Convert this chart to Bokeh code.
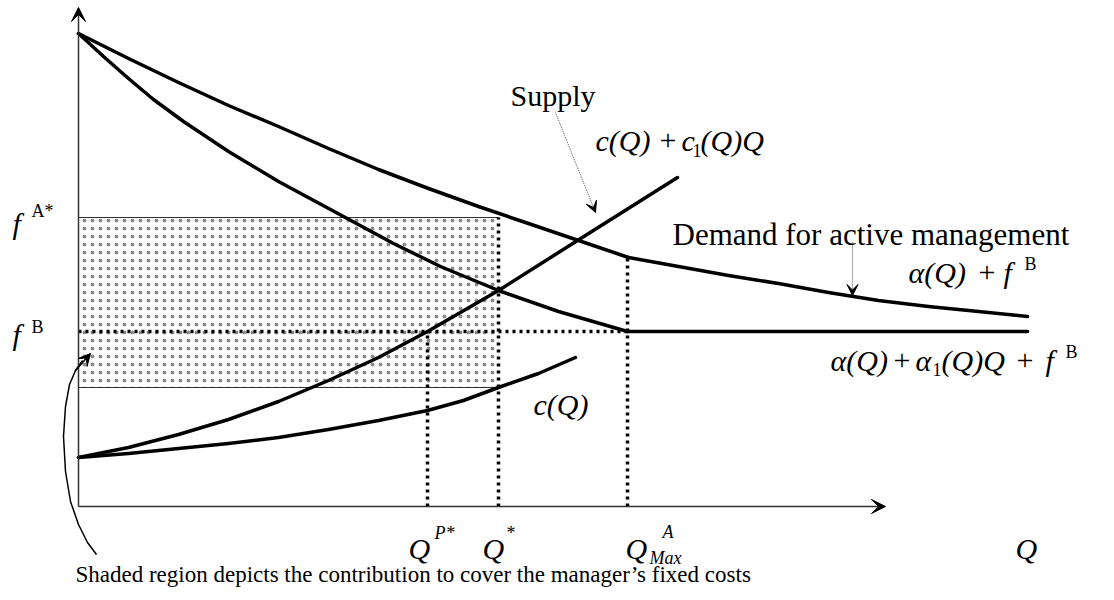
from bokeh.plotting import figure
from bokeh.models import Range1d, Label, Arrow, VeeHead
from bokeh.embed import file_html
from bokeh.resources import INLINE

# ---- data (quantity Q on x, price on y; origin at the axes' origin) ----
q_demand_a = [0, 50, 100, 150, 200, 250, 300, 350, 400, 450, 500, 550]
p_demand_a = [473, 448, 424, 401, 380, 358, 337, 318, 300, 283, 266, 249]
q_demand_b = [550, 600, 650, 700, 750, 800, 850, 900, 949]
p_demand_b = [249, 240, 231, 223, 214, 206, 200, 195, 190]

q_mr_a = [0, 25, 50, 75, 105, 150, 200, 265, 315, 362, 420, 480, 549]
p_mr_a = [473, 450, 428, 407, 385, 355, 325, 290, 263, 240, 216, 195, 175]
q_mr_b = [549, 949]
p_mr_b = [175, 175]

q_supply = [0, 50, 100, 150, 200, 250, 300, 349, 420, 499, 599]
p_supply = [49, 59, 72, 87, 105, 126, 149, 175, 216, 266, 329]

q_cost = [0, 50, 100, 150, 200, 250, 300, 349, 385, 420, 460, 497]
p_cost = [49, 53, 58, 63, 69, 77, 86, 96, 106, 119, 133, 149]

f_A = 289
f_B = 175
Q_P = 349
Q_star = 420
Q_max = 549
c_star = 119
d_max = 249

q_axis_end = 807
p_axis_end = 499

# curved note arrow path
q_note = [18, 9, 0, -8, -13, -15, -13, -9, -3, 4]
p_note = [-48, -36, -18, 5, 35, 70, 100, 122, 136, 146]

FONT = "Liberation Serif"

p = figure(width=1114, height=600, x_range=Range1d(-78, 1036), y_range=Range1d(-94, 506),
           output_backend="svg", toolbar_location=None, min_border=0,
           x_axis_type=None, y_axis_type=None)
p.grid.visible = False
p.outline_line_color = None
p.background_fill_color = "white"

# shaded region
p.quad(left=[0], right=[Q_star], bottom=[c_star], top=[f_A], fill_color=None, line_color=None,
       hatch_pattern="dot", hatch_scale=8, hatch_color="#8c8c8c", hatch_weight=1.4)
p.line([0, Q_star], [f_A, f_A], line_color="#333333", line_width=1)
p.line([0, Q_star], [c_star, c_star], line_color="#333333", line_width=1)

# dotted guides
dot = dict(line_color="black", line_width=3.5, line_dash="3 4", line_cap="butt")
p.line([0, Q_max], [f_B, f_B], **dot)
p.line([Q_P, Q_P], [0, f_B], **dot)
p.line([Q_star, Q_star], [0, f_A], **dot)
p.line([Q_max, Q_max], [0, d_max], **dot)

# axes
p.add_layout(Arrow(end=VeeHead(size=14, fill_color="black", line_color="black", line_width=1),
                   x_start=0, y_start=0, x_end=0, y_end=p_axis_end, line_color="#333333", line_width=1.5))
p.add_layout(Arrow(end=VeeHead(size=14, fill_color="black", line_color="black", line_width=1),
                   x_start=0, y_start=0, x_end=q_axis_end, y_end=0, line_color="#333333", line_width=1.5))

# curves
curve = dict(line_color="black", line_width=3.5, line_join="round", line_cap="round")
p.line(q_demand_a, p_demand_a, **curve)
p.line(q_demand_b, p_demand_b, **curve)
p.line(q_mr_a, p_mr_a, **curve)
p.line(q_mr_b, p_mr_b, **curve)
p.line(q_supply, p_supply, **curve)
p.line(q_cost, p_cost, **curve)

# pointer arrows
p.add_layout(Arrow(end=VeeHead(size=11, fill_color="black", line_color="black", line_width=1),
                   x_start=477, y_start=394, x_end=517, y_end=294,
                   line_color="#555555", line_width=1, line_dash="1 1"))
p.add_layout(Arrow(end=VeeHead(size=11, fill_color="black", line_color="black", line_width=1),
                   x_start=774, y_start=264, x_end=774, y_end=211,
                   line_color="#555555", line_width=1, line_dash="1 1"))
p.line(q_note, p_note, line_color="black", line_width=1.5, line_join="round")
p.add_layout(Arrow(end=VeeHead(size=12, fill_color="black", line_color="black", line_width=1),
                   x_start=q_note[-2], y_start=p_note[-2], x_end=q_note[-1] + 8, y_end=p_note[-1] + 7,
                   line_color="black", line_width=1.5))


def lab(x, y, text, size, italic=False, baseline="middle", align="left"):
    p.add_layout(Label(x=x, y=y, text=text, text_font=FONT, text_font_size=f"{size}px",
                       text_font_style="italic" if italic else "normal",
                       text_baseline=baseline, text_align=align, text_color="black"))


# axis value labels
lab(-66, 283, "f", 30, True)
lab(-47, 296, "A*", 18)
lab(-66, 172, "f", 30, True)
lab(-47, 180, "B", 18)

lab(330, -42, "Q", 30, True)
lab(356, -26, "P*", 18, True)
lab(404, -42, "Q", 30, True)
lab(428, -26, "*", 18)
lab(547, -42, "Q", 30, True)
lab(584, -25, "A", 18, True)
lab(571, -51, "Max", 18, True)
lab(937, -42, "Q", 30, True)

# curve labels
lab(432, 411, "Supply", 30, baseline="alphabetic")
lab(517, 366, "c(Q)", 30, True)
lab(581, 366, "+", 30)
lab(603, 366, "c", 30, True)
lab(614, 356, "1", 18)
lab(622, 366, "(Q)Q", 30, True)

lab(594, 272, "Demand for active management", 31, baseline="alphabetic")
lab(830, 234, "\u03b1(Q)", 30, True)
lab(900, 234, "+", 30)
lab(925, 234, "f", 30, True)
lab(946, 243, "B", 18)

lab(752, 146, "\u03b1(Q)", 30, True)
lab(815, 146, "+", 30)
lab(837, 146, "\u03b1", 30, True)
lab(854, 137, "1", 18)
lab(863, 146, "(Q)Q", 30, True)
lab(938, 146, "+", 30)
lab(967, 146, "f", 30, True)
lab(987, 155, "B", 18)

lab(455, 102, "c(Q)", 30, True)

lab(-3, -68, "Shaded region depicts the contribution to cover the manager\u2019s fixed costs", 23,
    baseline="alphabetic")

open("out.html", "w").write(file_html(p, INLINE))
